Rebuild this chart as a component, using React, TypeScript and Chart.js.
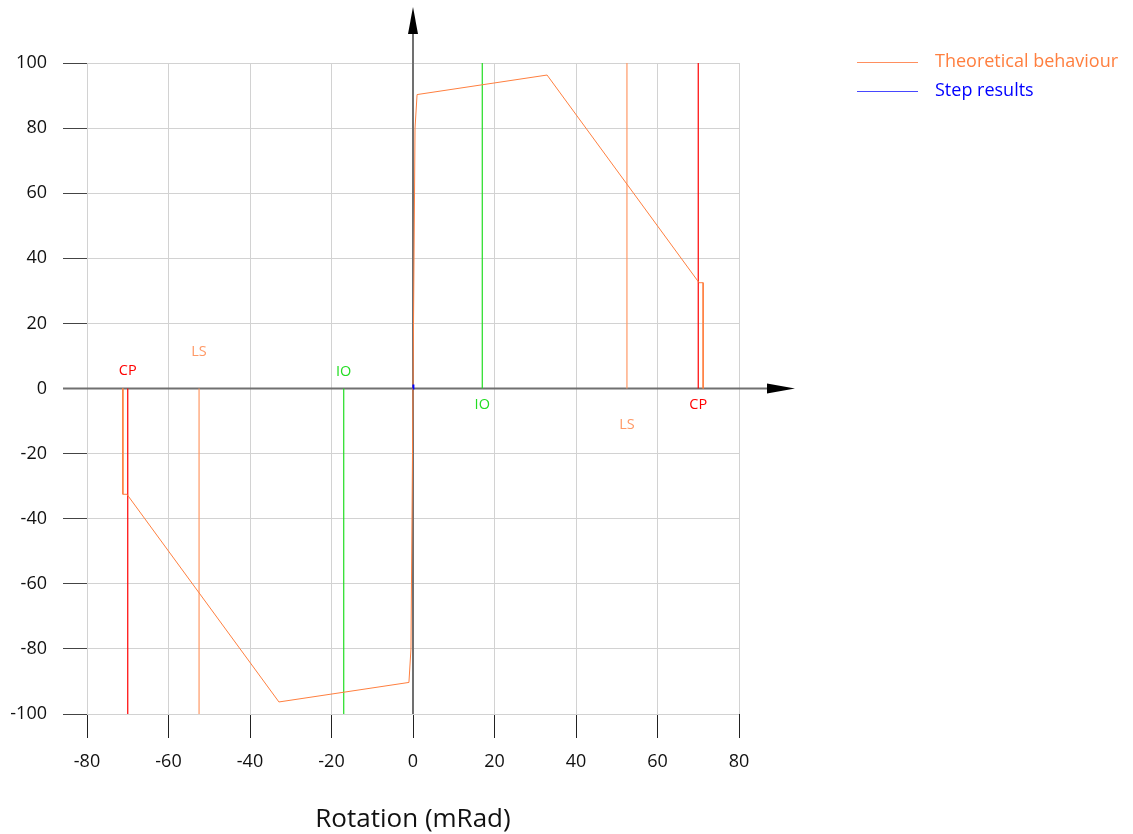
import React, { useEffect, useRef } from "react";
import { Chart, registerables } from "chart.js";

Chart.register(...registerables);

const theoreticalX = [-71.2, -71.2, -70.2, -32.9, -1.0, -0.5, 0, 0.5, 1.0, 32.9, 70.2, 71.2, 71.2];
const theoreticalY = [0, -32.5, -32.5, -96.3, -90.3, -80, 0, 80, 90.3, 96.3, 32.5, 32.5, 0];

const stepX = [0, 0.1];
const stepY = [0, 1.2];

const markerNames = ["CP", "LS", "IO"];
const markerValues = [70, 52.5, 17];
const markerColors = ["#FF0000", "#FF9966", "#22DD22"];
// label offsets (px) from the horizontal axis: right side below, left side above
const markerLabelOffsets = [16, 36, 16];
const markerLabelOffsetsLeft = [18, 37, 17];

const xTicks = [-80, -60, -40, -20, 0, 20, 40, 60, 80];
const yTicks = [-100, -80, -60, -40, -20, 0, 20, 40, 60, 80, 100];

const seriesNames = ["Theoretical behaviour", "Step results"];
const seriesColors = ["#FF7F3F", "#0000FF"];
const legendLineColors = ["#FF8F5F", "#4848FF"];

const FONT = "'Open Sans', 'DejaVu Sans', sans-serif";

export default function App() {
  const ref = useRef<HTMLCanvasElement | null>(null);

  useEffect(() => {
    document.body.style.margin = "0";
    const canvas = ref.current;
    if (!canvas) return;

    const datasets: any[] = [
      {
        label: seriesNames[0],
        data: theoreticalX.map((x, i) => ({ x, y: theoreticalY[i] })),
        borderColor: seriesColors[0],
        borderWidth: 1,
        pointRadius: 0,
        showLine: true,
        fill: false,
        tension: 0,
        order: 1,
      },
      {
        label: seriesNames[1],
        data: stepX.map((x, i) => ({ x, y: stepY[i] })),
        borderColor: seriesColors[1],
        borderWidth: 2,
        pointRadius: 0,
        showLine: true,
        fill: false,
        order: 0,
      },
    ];
    markerNames.forEach((name, i) => {
      const v = markerValues[i];
      datasets.push({
        label: name + "+",
        data: [{ x: v, y: 0 }, { x: v, y: 100 }],
        borderColor: markerColors[i],
        borderWidth: 1.2,
        pointRadius: 0,
        showLine: true,
        order: 2,
      });
      datasets.push({
        label: name + "-",
        data: [{ x: -v, y: 0 }, { x: -v, y: -100 }],
        borderColor: markerColors[i],
        borderWidth: 1.2,
        pointRadius: 0,
        showLine: true,
        order: 2,
      });
    });

    const overlay = {
      id: "overlay",
      beforeDatasetsDraw(chart: any) {
        const { ctx, scales } = chart;
        const xs = scales.x;
        const ys = scales.y;
        const x0 = xs.getPixelForValue(0);
        const y0 = ys.getPixelForValue(0);
        ctx.save();
        ctx.strokeStyle = "#707070";
        ctx.lineWidth = 2;
        ctx.beginPath();
        ctx.moveTo(x0, ys.bottom);
        ctx.lineTo(x0, 30);
        ctx.stroke();
        ctx.beginPath();
        ctx.moveTo(xs.left - 24, y0);
        ctx.lineTo(772, y0);
        ctx.stroke();
        ctx.fillStyle = "#000";
        ctx.beginPath();
        ctx.moveTo(x0, 7);
        ctx.lineTo(x0 - 5, 34);
        ctx.lineTo(x0 + 5, 34);
        ctx.closePath();
        ctx.fill();
        ctx.beginPath();
        ctx.moveTo(795, y0);
        ctx.lineTo(767, y0 - 5);
        ctx.lineTo(767, y0 + 5);
        ctx.closePath();
        ctx.fill();
        ctx.restore();
      },
      afterDraw(chart: any) {
        const { ctx, scales } = chart;
        const xs = scales.x;
        const ys = scales.y;
        const y0 = ys.getPixelForValue(0);
        ctx.save();
        ctx.font = "14.5px " + FONT;
        ctx.textAlign = "center";
        ctx.textBaseline = "middle";
        markerNames.forEach((name, i) => {
          ctx.fillStyle = markerColors[i];
          ctx.fillText(name, xs.getPixelForValue(markerValues[i]), y0 + markerLabelOffsets[i]);
          ctx.fillText(name, xs.getPixelForValue(-markerValues[i]), y0 - markerLabelOffsetsLeft[i]);
        });
        ctx.font = "18px " + FONT;
        ctx.textAlign = "left";
        seriesNames.forEach((name, i) => {
          const y = 62 + i * 29;
          ctx.strokeStyle = legendLineColors[i];
          ctx.lineWidth = 1;
          ctx.beginPath();
          ctx.moveTo(857, y + 0.5);
          ctx.lineTo(918, y + 0.5);
          ctx.stroke();
          ctx.fillStyle = seriesColors[i];
          ctx.fillText(name, 935, y);
        });
        ctx.restore();
      },
    };

    const chart = new Chart(canvas, {
      type: "scatter",
      data: { datasets },
      options: {
        responsive: false,
        animation: false,
        layout: { padding: { left: 0, top: 63, right: 394, bottom: 0 } },
        plugins: { legend: { display: false }, tooltip: { enabled: false } },
        scales: {
          x: {
            type: "linear",
            min: -80,
            max: 80,
            afterBuildTicks: (s: any) => {
              s.ticks = xTicks.map((v) => ({ value: v }));
            },
            afterFit: (s: any) => {
              s.height = 120;
            },
            grid: { color: "#d2d2d2", lineWidth: 1, tickLength: 24, tickColor: "#222" },
            border: { display: false },
            ticks: { color: "#111", font: { size: 18, family: FONT }, padding: 13, maxRotation: 0 },
            title: {
              display: true,
              text: "Rotation (mRad)",
              color: "#111",
              font: { size: 26, family: FONT, lineHeight: 1.1 },
              padding: { top: 0, bottom: 0 },
            },
          },
          y: {
            type: "linear",
            min: -100,
            max: 100,
            afterBuildTicks: (s: any) => {
              s.ticks = yTicks.map((v) => ({ value: v }));
            },
            afterFit: (s: any) => {
              s.width = 87;
            },
            grid: { color: "#d2d2d2", lineWidth: 1, tickLength: 24, tickColor: "#444" },
            border: { display: false },
            ticks: { color: "#111", font: { size: 18, family: FONT }, padding: 16 },
          },
        },
      },
      plugins: [overlay],
    });

    return () => chart.destroy();
  }, []);

  return (
    <div style={{ width: 1133, height: 834 }}>
      <canvas ref={ref} width={1133} height={834} style={{ display: "block" }} />
    </div>
  );
}
